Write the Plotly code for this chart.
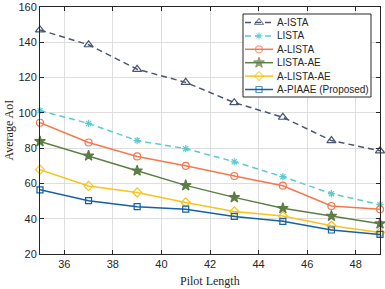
import plotly.graph_objects as go

pilot_length = [35, 37, 39, 41, 43, 45, 47, 49]
a_ista = [147.0, 138.6, 124.7, 117.3, 105.8, 97.5, 84.3, 78.5]
lista = [101.2, 94.0, 84.3, 79.7, 72.3, 63.8, 54.2, 48.0]
a_lista = [94.4, 83.2, 75.3, 70.0, 64.2, 58.7, 47.2, 45.3]
lista_ae = [83.8, 75.7, 67.2, 58.9, 52.1, 45.9, 41.5, 37.2]
a_lista_ae = [67.8, 58.6, 54.9, 49.2, 44.1, 41.5, 36.0, 32.2]
a_piaae = [56.4, 50.2, 46.8, 45.4, 41.3, 38.5, 33.6, 31.1]

x_ticks = [36, 38, 40, 42, 44, 46, 48]
y_ticks = [20, 40, 60, 80, 100, 120, 140, 160]

series_names = ["A-ISTA", "LISTA", "A-LISTA", "LISTA-AE", "A-LISTA-AE", "A-PIAAE (Proposed)"]
series_values = [a_ista, lista, a_lista, lista_ae, a_lista_ae, a_piaae]
colors = ["#4a5672", "#5ccbd0", "#f5774e", "#5e7d45", "#f8c31c", "#1461a8"]
dashes = ["6px,4px", "6px,4px", "solid", "solid", "solid", "solid"]
symbols = ["triangle-up-open", "asterisk-open", "circle-open", "star", "diamond-open", "square-open"]
sizes = [8, 6, 7, 8, 7, 6]

W, H = 385, 289
ML, MR, MT, MB = 40, 5, 7, 35
PX0, PX1 = ML, W - MR
PY0, PY1 = MT, H - MB

fig = go.Figure()
for name, vals, color, dash, sym, sz in zip(series_names, series_values, colors, dashes, symbols, sizes):
    fig.add_trace(go.Scatter(
        x=pilot_length, y=vals, name=name, mode="lines+markers",
        line=dict(color=color, width=1.5, dash=dash),
        marker=dict(symbol=sym, size=sz, color=color, line=dict(color=color, width=1.2)),
        cliponaxis=False, showlegend=False,
    ))

# custom compact legend drawn on an overlay axis measured in pixels
lx0, lx1, ly0, ly1 = 243, 371, 14, 97
fig.add_trace(go.Scatter(
    x=[lx0, lx1, lx1, lx0, lx0], y=[ly0, ly0, ly1, ly1, ly0],
    xaxis="x2", yaxis="y2", mode="lines", fill="toself", fillcolor="white",
    line=dict(color="#262626", width=1), showlegend=False, hoverinfo="skip",
))
row_y0, row_dy = 22.5, 13.4
for i, (name, color, dash, sym, sz) in enumerate(zip(series_names, colors, dashes, symbols, sizes)):
    yy = row_y0 + i * row_dy
    fig.add_trace(go.Scatter(
        x=[245, 259, 273], y=[yy, yy, yy], xaxis="x2", yaxis="y2",
        mode="lines+markers",
        line=dict(color=color, width=1.5, dash=dash),
        marker=dict(symbol=sym, size=[0, sz, 0], color=color, line=dict(color=color, width=1.2)),
        showlegend=False, hoverinfo="skip",
    ))
    fig.add_annotation(x=275, y=yy, xref="x2", yref="y2", text=name, showarrow=False,
                       xanchor="left", yanchor="middle",
                       font=dict(family="Liberation Sans, Arial, sans-serif", size=10, color="#262626"))

axis_common = dict(
    showline=True, linecolor="#262626", linewidth=1, mirror="ticks",
    ticks="inside", ticklen=4, tickcolor="#262626",
    showgrid=True, gridcolor="#dedede", gridwidth=1, zeroline=False,
    automargin=False,
    tickfont=dict(family="Liberation Sans, Arial, sans-serif", size=11, color="#262626"),
)

fig.update_layout(
    xaxis=dict(range=[35, 49], tickvals=x_ticks, **axis_common),
    yaxis=dict(range=[20, 160], tickvals=y_ticks, **axis_common),
    xaxis2=dict(range=[PX0, PX1], overlaying="x", visible=False, fixedrange=True),
    yaxis2=dict(range=[PY1, PY0], overlaying="y", visible=False, fixedrange=True),
)

fig.add_annotation(x=0.5, y=-(281 - PY1) / (PY1 - PY0), xref="paper", yref="paper",
                   text="Pilot Length", showarrow=False, xanchor="center", yanchor="middle",
                   font=dict(family="Liberation Serif, serif", size=12, color="#262626"))
fig.add_annotation(x=-(ML - 8) / (PX1 - PX0), y=0.5, xref="paper", yref="paper",
                   text="Average AoI", showarrow=False, textangle=-90,
                   xanchor="center", yanchor="middle",
                   font=dict(family="Liberation Serif, serif", size=12, color="#262626"))

fig.update_layout(
    width=W, height=H,
    margin=dict(l=ML, r=MR, t=MT, b=MB),
    paper_bgcolor="white", plot_bgcolor="white",
    showlegend=False,
    hovermode=False,
)

fig.write_html("out.html",
               config={"displayModeBar": False, "staticPlot": True},
               post_script="document.body.style.margin='0';document.body.style.overflow='hidden';")
